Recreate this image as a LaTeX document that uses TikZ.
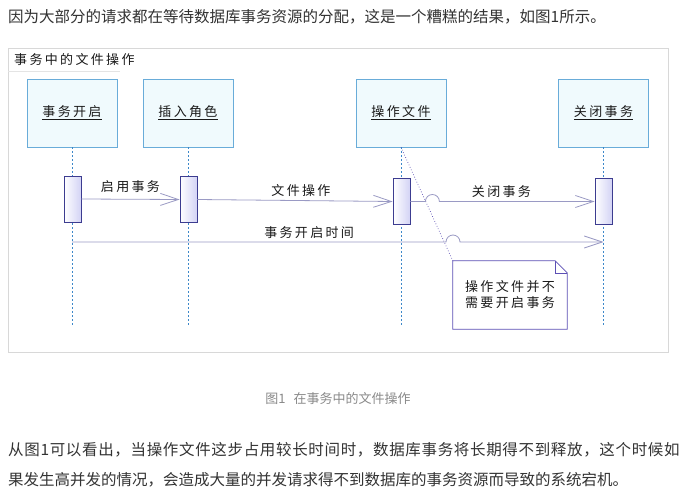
\documentclass[tikz,border=0pt]{standalone}
\usepackage{fontspec}
\setmainfont{Noto Sans CJK SC}
\newfontfamily\diafont{Noto Sans CJK SC}[LetterSpace=18]
\usetikzlibrary{arrows.meta}
\definecolor{boxfill}{HTML}{F0FAFD}
\definecolor{boxline}{HTML}{69ACD9}
\definecolor{lifeblue}{HTML}{3D88C9}
\definecolor{actfill}{HTML}{D3D3F5}
\definecolor{actline}{HTML}{3C3C90}
\definecolor{msgline}{HTML}{9A9AC4}
\definecolor{noteline}{HTML}{5C4FB5}
\definecolor{framegray}{HTML}{D8D8D8}
\definecolor{bodytext}{HTML}{333333}
\definecolor{captext}{HTML}{8A8A8A}

\begin{document}
\begin{tikzpicture}[x=1pt,y=-1pt,
    every node/.style={text=black!90},
    life/.style={draw=boxline,fill=boxfill,line width=0.8pt,minimum width=90pt,minimum height=68pt,
                 font=\diafont\fontsize{13}{16}\selectfont},
    lifeline/.style={draw=lifeblue,line width=0.7pt,dash pattern=on 2pt off 2pt},
    act/.style={draw=actline,left color=white,right color=actfill,line width=0.8pt,
                minimum width=17pt,minimum height=46pt,inner sep=0pt},
    msg/.style={draw=msgline,line width=0.8pt,-{Straight Barb[length=18pt,width=12pt]}},
    lbl/.style={font=\diafont\fontsize{13}{16}\selectfont,above=0pt},
    notebox/.style={minimum width=114pt,minimum height=68pt,align=center,
                    font=\diafont\fontsize{13}{16}\selectfont},
    notelink/.style={draw=noteline,line width=0.7pt,dotted},
    para/.style={anchor=west,text=bodytext,inner sep=0pt,font=\fontsize{15.5}{18}\selectfont}]
\useasboundingbox[fill=white] (0,0) rectangle (686,495);

\node[para] (top) at (8,17) {因为大部分的请求都在等待数据库事务资源的分配，这是一个糟糕的结果，如图1所示。};

\draw[framegray,line width=0.8pt] (8,48) rectangle (668,352);
\node[anchor=west,inner sep=0pt,font=\diafont\fontsize{13}{16}\selectfont] (title) at (14,60) {事务中的文件操作};
\draw[framegray!70,line width=0.5pt] (8,71) -- (120,71);

\node[life] (b1) at (72,113) {\underline{事务开启}};
\node[life] (b2) at (188,113) {\underline{插入角色}};
\node[life] (b3) at (401,113) {\underline{操作文件}};
\node[life] (b4) at (603.5,113) {\underline{关闭事务}};

\coordinate (l1) at (72,326);
\coordinate (l2) at (188,326);
\coordinate (l3) at (401,326);
\coordinate (l4) at (603.5,326);
\draw[lifeline] (b1.south) -- (l1);
\draw[lifeline] (b2.south) -- (l2);
\draw[lifeline] (b3.south) -- (l3);
\draw[lifeline] (b4.south) -- (l4);

\node[act] (a1) at (72.5,199) {};
\node[act] (a2) at (188.5,199.5) {};
\node[act] (a3) at (401.5,201.5) {};
\node[act] (a4) at (603.5,201.5) {};

\node[notebox] (note) at (510,295) {操作文件并不\\需要开启事务};
\draw[noteline,line width=0.8pt] (note.north west) -- ([xshift=-12pt]note.north east)
    -- ([yshift=-12pt]note.north east) -- (note.south east) -- (note.south west) -- cycle;
\draw[noteline,line width=0.6pt] ([xshift=-12pt]note.north east) -- ([xshift=-12pt,yshift=-12pt]note.north east)
    -- ([yshift=-12pt]note.north east);
\draw[notelink] (b3.south) -- (note.north west);

\draw[msg] (a1.east) -- (a2.west) node[lbl,midway,above=3pt] {启用事务};
\draw[msg] (a2.east) -- (a3.west) node[lbl,midway,xshift=6pt] {文件操作};
\draw[msg] (a3.east) -- ++(15,0) arc[start angle=180,end angle=0,radius=7pt]
    -- (a4.west) node[lbl,pos=0.4] {关闭事务};
\coordinate (t1) at (72,242);
\coordinate (t4) at (603.5,242);
\draw[msg] (t1) -- ++(374,0) node[lbl,pos=0.634] {事务开启时间}
    arc[start angle=180,end angle=0,radius=7pt] -- (t4);

\node[text=captext,font=\fontsize{13}{16}\selectfont] (cap) at (338,399) {图1\hspace{8pt}在事务中的文件操作};

\node[para,font=\addfontfeature{LetterSpace=4.3}\fontsize{15.5}{18}\selectfont] (p1) at (8,450)
    {从图1可以看出，当操作文件这步占用较长时间时，数据库事务将长期得不到释放，这个时候如};
\node[para] (p2) at (8,480) {果发生高并发的情况，会造成大量的并发请求得不到数据库的事务资源而导致的系统宕机。};
\end{tikzpicture}
\end{document}
